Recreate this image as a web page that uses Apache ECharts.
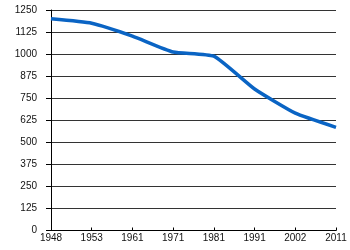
<!DOCTYPE html>
<html><head><meta charset="utf-8">
<script src="https://cdn.jsdelivr.net/npm/echarts@6/dist/echarts.min.js"></script>
<style>html,body{margin:0;padding:0;background:#fff}#c{width:350px;height:250px}</style>
</head><body><div id="c"></div>
<script>
var years = ['1948','1953','1961','1971','1981','1991','2002','2011'];
var population = [1200, 1175, 1102, 1012, 988, 802, 665, 585];
var yMin = 0, yMax = 1250, yStep = 125;

var chart = echarts.init(document.getElementById('c'), null, {renderer:'canvas'});
chart.setOption({
  animation:false,
  backgroundColor:'#ffffff',
  grid:{left:51, right:14, top:10, bottom:19.5, containLabel:false},
  xAxis:{
    type:'category', data:years, boundaryGap:false,
    axisLine:{lineStyle:{color:'#000', width:1}},
    axisTick:{show:true, inside:true, length:3, lineStyle:{color:'#000'}},
    axisLabel:{color:'#111', fontSize:10, fontFamily:'Liberation Sans, Arial, sans-serif', margin:3, interval:0},
    splitLine:{show:false}
  },
  yAxis:{
    type:'value', min:yMin, max:yMax, interval:yStep,
    axisLine:{show:true, lineStyle:{color:'#000', width:1}},
    axisTick:{show:true, length:5, lineStyle:{color:'#000'}},
    axisLabel:{color:'#111', fontSize:10, fontFamily:'Liberation Sans, Arial, sans-serif', margin:14,
      formatter:function(v){return String(v);}},
    splitLine:{show:true, lineStyle:{color:'#333', width:1}}
  },
  series:[{
    type:'line', data:population, smooth:0.15, symbol:'none',
    lineStyle:{color:'#0a64c4', width:3.5}
  }]
});
</script></body></html>
